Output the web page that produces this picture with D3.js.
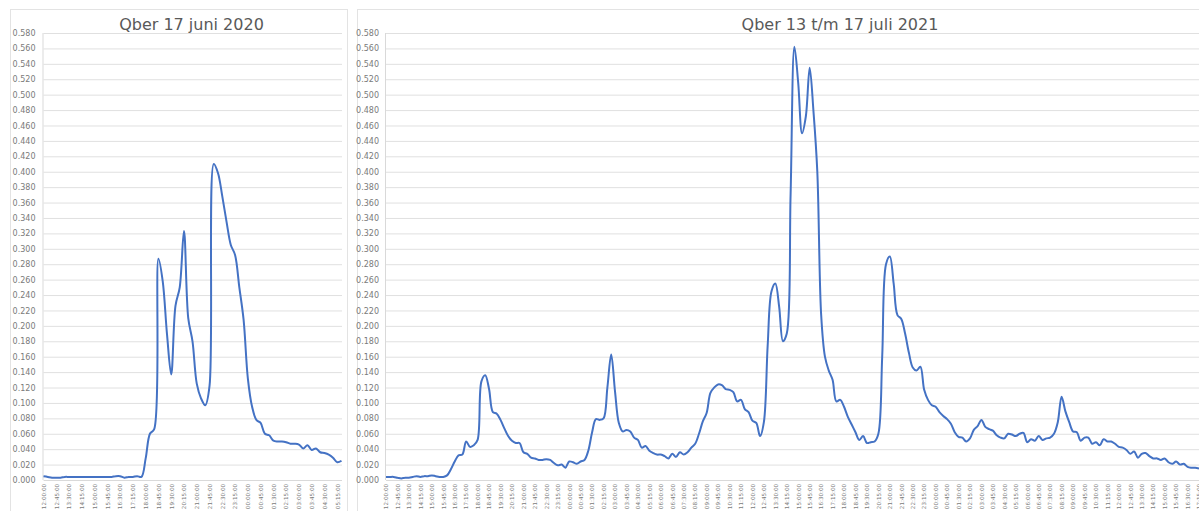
<!DOCTYPE html>
<html>
<head>
<meta charset="utf-8">
<script src="https://cdn.jsdelivr.net/npm/d3@7"></script>
<style>
  html, body { margin: 0; padding: 0; background: #fff; }
  svg { display: block; font-family: "DejaVu Sans", Verdana, sans-serif; }
</style>
</head>
<body>
<svg id="chart" width="1199" height="511"></svg>
<script>
// Qber, one value per 15 minutes, starting 17 June 2020 12:00
const qberJuni2020 = [
  0.005, 0.004, 0.003, 0.003, 0.003, 0.004, 0.004, 0.004, 0.004, 0.004,
  0.004, 0.004, 0.004, 0.004, 0.004, 0.004, 0.004, 0.005, 0.005, 0.003,
  0.004, 0.004, 0.005, 0.004, 0.028, 0.060, 0.066, 0.287, 0.258, 0.190,
  0.137, 0.226, 0.250, 0.323, 0.210, 0.180, 0.125, 0.106, 0.097, 0.122,
  0.410, 0.398, 0.368, 0.335, 0.305, 0.292, 0.250, 0.208, 0.132, 0.095,
  0.078, 0.074, 0.060, 0.058, 0.051, 0.050, 0.050, 0.049, 0.047, 0.047,
  0.046, 0.041, 0.045, 0.039, 0.041, 0.036, 0.035, 0.033, 0.029, 0.023,
  0.025
];

// Qber, one value per 15 minutes, starting 13 July 2021 12:00
const qberJuli2021 = [
  0.004, 0.004, 0.004, 0.003, 0.002, 0.003, 0.003, 0.004, 0.005, 0.004,
  0.005, 0.005, 0.006, 0.005, 0.004, 0.004, 0.006, 0.014, 0.024, 0.032,
  0.033, 0.050, 0.043, 0.045, 0.052, 0.128, 0.136, 0.118, 0.088, 0.086,
  0.078, 0.067, 0.057, 0.051, 0.048, 0.048, 0.036, 0.034, 0.029, 0.028,
  0.026, 0.026, 0.027, 0.026, 0.022, 0.019, 0.020, 0.016, 0.024, 0.023,
  0.021, 0.024, 0.026, 0.038, 0.062, 0.079, 0.078, 0.080, 0.120, 0.163,
  0.115, 0.074, 0.063, 0.065, 0.063, 0.055, 0.052, 0.042, 0.044, 0.038,
  0.035, 0.033, 0.033, 0.031, 0.028, 0.034, 0.030, 0.036, 0.033, 0.036,
  0.042, 0.047, 0.060, 0.076, 0.087, 0.113, 0.120, 0.124, 0.123, 0.118,
  0.117, 0.114, 0.102, 0.104, 0.092, 0.088, 0.077, 0.074, 0.057, 0.075,
  0.175, 0.245, 0.255, 0.225, 0.180, 0.190, 0.370, 0.562, 0.515, 0.450,
  0.472, 0.535, 0.478, 0.400, 0.215, 0.160, 0.142, 0.130, 0.102, 0.104,
  0.095, 0.082, 0.072, 0.062, 0.052, 0.057, 0.048, 0.049, 0.050, 0.060,
  0.160, 0.280, 0.290, 0.255, 0.214, 0.209, 0.190, 0.165, 0.146, 0.142,
  0.147, 0.117, 0.104, 0.097, 0.095, 0.088, 0.083, 0.079, 0.073, 0.062,
  0.056, 0.055, 0.050, 0.054, 0.065, 0.070, 0.078, 0.069, 0.066, 0.064,
  0.058, 0.055, 0.054, 0.060, 0.059, 0.057, 0.060, 0.061, 0.049, 0.053,
  0.051, 0.057, 0.052, 0.054, 0.055, 0.060, 0.075, 0.108, 0.089, 0.075,
  0.063, 0.062, 0.051, 0.055, 0.055, 0.047, 0.049, 0.045, 0.053, 0.050,
  0.050, 0.047, 0.043, 0.042, 0.039, 0.034, 0.037, 0.029, 0.034, 0.035,
  0.031, 0.028, 0.028, 0.026, 0.028, 0.023, 0.021, 0.024, 0.020, 0.021,
  0.017, 0.016, 0.016, 0.015
];

// Value axis ticks
const yTickValues = [
  0.000, 0.020, 0.040, 0.060, 0.080, 0.100, 0.120, 0.140, 0.160, 0.180,
  0.200, 0.220, 0.240, 0.260, 0.280, 0.300, 0.320, 0.340, 0.360, 0.380,
  0.400, 0.420, 0.440, 0.460, 0.480, 0.500, 0.520, 0.540, 0.560, 0.580
];

const titles = ["Qber 17 juni 2020", "Qber 13 t/m 17 juli 2021"];
const seriesStart = [new Date(2020, 5, 17, 12, 0, 0), new Date(2021, 6, 13, 12, 0, 0)];
const stepMinutes = 15;
const labelEvery = 3;   // one category label per 45 minutes

const timeFmt = d3.timeFormat("%H:%M:%S");
const svg = d3.select("#chart");

const yTop = 33, yBottom = 480;
const y = d3.scaleLinear().domain([0, 0.58]).range([yBottom, yTop]);

function drawPanel(cfg) {
  const n = cfg.values.length;
  const times = cfg.values.map((_, i) => d3.timeMinute.offset(cfg.start, i * stepMinutes));
  const x = d3.scaleLinear().domain([0, n - 1]).range([cfg.left, cfg.right]);
  const g = svg.append("g");

  // chart area border
  g.append("rect")
    .attr("x", cfg.frameLeft).attr("y", 9.5)
    .attr("width", cfg.frameRight - cfg.frameLeft).attr("height", 560)
    .attr("fill", "#fff").attr("stroke", "#e3e3e3").attr("stroke-width", 1);

  // horizontal gridlines
  g.append("g")
    .attr("transform", `translate(${cfg.left},0)`)
    .call(d3.axisLeft(y).tickValues(yTickValues).tickFormat("")
      .tickSize(-(cfg.gridRight - cfg.left)))
    .call(a => a.select(".domain").remove())
    .call(a => a.selectAll("line").attr("stroke", "#e0e0e0").attr("stroke-width", 1));

  // value axis labels
  g.append("g")
    .attr("transform", `translate(${cfg.left},0)`)
    .call(d3.axisLeft(y).tickValues(yTickValues).tickFormat(d3.format(".3f"))
      .tickSize(0).tickPadding(cfg.labelPad))
    .call(a => a.select(".domain").remove())
    .call(a => a.selectAll("text")
      .attr("fill", "#7a7a7a").style("font-size", "8px")
      .style("font-family", "'DejaVu Sans', Verdana, sans-serif"));

  // vertical axis line
  g.append("line")
    .attr("x1", cfg.left - 0.5).attr("x2", cfg.left - 0.5)
    .attr("y1", yTop).attr("y2", yBottom)
    .attr("stroke", "#d9d9d9").attr("stroke-width", 1);

  // category axis with rotated time labels
  const tickIdx = d3.range(0, n, labelEvery);
  g.append("g")
    .attr("transform", `translate(0,${yBottom})`)
    .call(d3.axisBottom(x).tickValues(tickIdx).tickFormat(i => timeFmt(times[i])).tickSize(0))
    .call(a => a.select(".domain").attr("stroke", "#d9d9d9"))
    .call(a => a.selectAll("text")
      .attr("transform", "rotate(-90)")
      .attr("text-anchor", "end")
      .attr("x", -4).attr("y", 0).attr("dy", "0.32em")
      .attr("fill", "#7a7a7a").style("font-size", "5.6px")
      .style("font-family", "'DejaVu Sans', Verdana, sans-serif"));

  // series line
  const line = d3.line()
    .x((d, i) => x(i))
    .y(d => y(d))
    .curve(d3.curveCatmullRom.alpha(0.5));
  g.append("path")
    .datum(cfg.values)
    .attr("d", line)
    .attr("fill", "none")
    .attr("stroke", "#4472c4")
    .attr("stroke-width", 2)
    .attr("stroke-linejoin", "round");

  // title
  g.append("text")
    .attr("x", cfg.titleX).attr("y", 29.5)
    .attr("text-anchor", "middle")
    .attr("fill", "#595959")
    .style("font-size", "16px")
    .text(cfg.title);
}

drawPanel({
  values: qberJuni2020, start: seriesStart[0], title: titles[0],
  frameLeft: 10.5, frameRight: 347.5,
  left: 43.5, right: 341.5, gridRight: 342, labelPad: 8, titleX: 191.5
});

drawPanel({
  values: qberJuli2021, start: seriesStart[1], title: titles[1],
  frameLeft: 357.5, frameRight: 1330,
  left: 386, right: 1199, gridRight: 1210, labelPad: 7, titleX: 840
});
</script>
</body>
</html>
